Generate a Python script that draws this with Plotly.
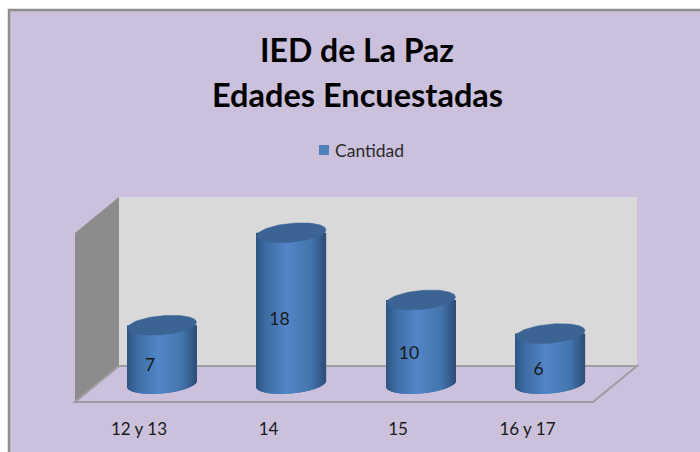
"""
IED de La Paz - Edades Encuestadas
Fake 3D cylinder column chart, built from thin bars so the sides get a gradient.
"""

import numpy as np
import plotly.graph_objects as go

# ── Data ──────────────────────────────────────────────────────────────────────
categories = ["12 y 13", "14", "15", "16 y 17"]
cantidad = [7, 18, 10, 6]
series_name = "Cantidad"
title_lines = ["IED de La Paz", "Edades Encuestadas"]

# ── Geometry (pixels of the 700x452 picture) ──────────────────────────────────
W, H = 700, 452
AXIS_Y = 402            # bottom of the plot area, also the floor front edge
FIRST_X = 162           # centre of the first cylinder
STEP_X = 129.5          # pixels per category
BASE_Y = 384            # centre of the cylinder foot
PX_PER_UNIT = 8.4
RADIUS = 34.5
ELL_H = 9.5
ELL_TILT = 3

BG = "#cbc1dc"
EDGE = "#8e8e8e"
FLOOR_LINE = "#a09ca4"
WALL = "#d9d9d9"
SIDE = "#8c8c8c"
CAP = "#3b6494"
TEXT = "#1a1a1a"
SWATCH = "#4f81bd"
FONT = "Lato"

GRADIENT = [
    (0.00, (46, 84, 130)),
    (0.15, (62, 108, 165)),
    (0.45, (83, 134, 200)),
    (0.80, (68, 116, 173)),
    (1.00, (45, 78, 122)),
]


def side_color(t):
    stops = [s[0] for s in GRADIENT]
    r, g, b = (np.interp(t, stops, [s[1][c] for s in GRADIENT]) for c in range(3))
    return f"rgb({r:.0f},{g:.0f},{b:.0f})"


def px(x):
    return x / W


def py(y):
    return (AXIS_Y - y) / AXIS_Y


def poly(points, **kw):
    path = "M " + " L ".join(f"{px(x)},{py(y)}" for x, y in points) + " Z"
    return dict(type="path", path=path, xref="paper", yref="paper", layer="below", **kw)


fig = go.Figure()

# ── Chart box and 3D walls ────────────────────────────────────────────────────
shapes = [
    poly([(0, 0), (W, 0), (W, H), (0, H)], fillcolor="white", line_width=0),
    poly([(9, 10), (W + 5, 10), (W + 5, H + 5), (9, H + 5)],
         fillcolor=BG, line=dict(color=EDGE, width=2.5)),
    poly([(119, 197), (637, 197), (637, 366), (119, 366)], fillcolor=WALL, line_width=0),
    poly([(75, 233), (119, 197), (119, 366), (75, 402)], fillcolor=SIDE, line_width=0),
    poly([(75, 402), (119, 366), (637, 366), (593, 402)],
         fillcolor=BG, line=dict(color=FLOOR_LINE, width=2)),
    # legend swatch
    poly([(319, 145), (329, 145), (329, 155), (319, 155)], fillcolor=SWATCH, line_width=0),
]

# ── Cylinders ─────────────────────────────────────────────────────────────────
offsets = np.arange(-RADIUS + 0.5, RADIUS, 1.0)
bar_x, bar_base, bar_y, bar_color = [], [], [], []
for i, value in enumerate(cantidad):
    for dx in offsets:
        u = dx / RADIUS
        foot_px = -ELL_TILT * u + ELL_H * np.sqrt(1 - u * u)
        base = -foot_px / PX_PER_UNIT
        bar_x.append(i + dx / STEP_X)
        bar_base.append(base)
        bar_y.append(value - base)
        bar_color.append(side_color((u + 1) / 2))

fig.add_trace(go.Bar(
    x=bar_x, y=bar_y, base=bar_base, width=1.3 / STEP_X,
    marker=dict(color=bar_color, line=dict(width=0)),
    showlegend=False, hoverinfo="skip",
))

# Top caps
t = np.linspace(0, 2 * np.pi, 80)
cap_x, cap_y = [], []
for i, value in enumerate(cantidad):
    cap_x += list(i + RADIUS * np.cos(t) / STEP_X) + [None]
    cap_y += list(value + (ELL_TILT * np.cos(t) + ELL_H * np.sin(t)) / PX_PER_UNIT) + [None]
fig.add_trace(go.Scatter(
    x=cap_x, y=cap_y, mode="lines", fill="toself", fillcolor=CAP,
    line=dict(color=CAP, width=0.5), showlegend=False, hoverinfo="skip",
))

# Value labels sit left of the axis and below the middle of each column
fig.add_trace(go.Scatter(
    x=[i - 12 / STEP_X for i in range(len(cantidad))],
    y=[v / 2 - 1.45 for v in cantidad],
    mode="text", text=[str(v) for v in cantidad],
    textfont=dict(size=17.5, color=TEXT, family=FONT),
    showlegend=False, hoverinfo="skip",
))

# ── Layout ────────────────────────────────────────────────────────────────────
fig.update_layout(
    width=W, height=H,
    autosize=False,
    margin=dict(l=0, r=0, t=0, b=H - AXIS_Y, pad=0),
    paper_bgcolor="white",
    plot_bgcolor="rgba(0,0,0,0)",
    barmode="overlay",
    shapes=shapes,
    showlegend=False,
    title=dict(
        text=f"<b>{title_lines[0]}</b>",
        x=357 / W, xanchor="center",
        y=1 - 51 / H, yanchor="middle",
        font=dict(size=32, color="black", family=FONT),
    ),
    annotations=[
        dict(text=f"<b>{title_lines[1]}</b>", xref="paper", yref="paper",
             x=px(357.5), y=py(95), xanchor="center", yanchor="middle", showarrow=False,
             font=dict(size=32.5, color="black", family=FONT)),
        dict(text=series_name, xref="paper", yref="paper",
             x=px(334), y=py(150), xanchor="left", yanchor="middle", showarrow=False,
             xshift=-1, font=dict(size=17.5, color="#2b2b2b", family=FONT)),
    ],
    xaxis=dict(
        range=[-FIRST_X / STEP_X, (W - FIRST_X) / STEP_X],
        tickmode="array",
        tickvals=[i - 23 / STEP_X for i in range(len(categories))],
        ticktext=categories,
        ticks="outside", ticklen=12, tickcolor="rgba(0,0,0,0)",
        tickfont=dict(size=17, color=TEXT, family=FONT),
        showgrid=False, zeroline=False, showline=False, fixedrange=True,
    ),
    yaxis=dict(
        range=[(BASE_Y - AXIS_Y) / PX_PER_UNIT, BASE_Y / PX_PER_UNIT],
        visible=False, fixedrange=True,
    ),
)

fig.write_html("out.html", config=dict(displayModeBar=False),
               post_script="document.body.style.margin='0';document.body.style.overflow='hidden';")
